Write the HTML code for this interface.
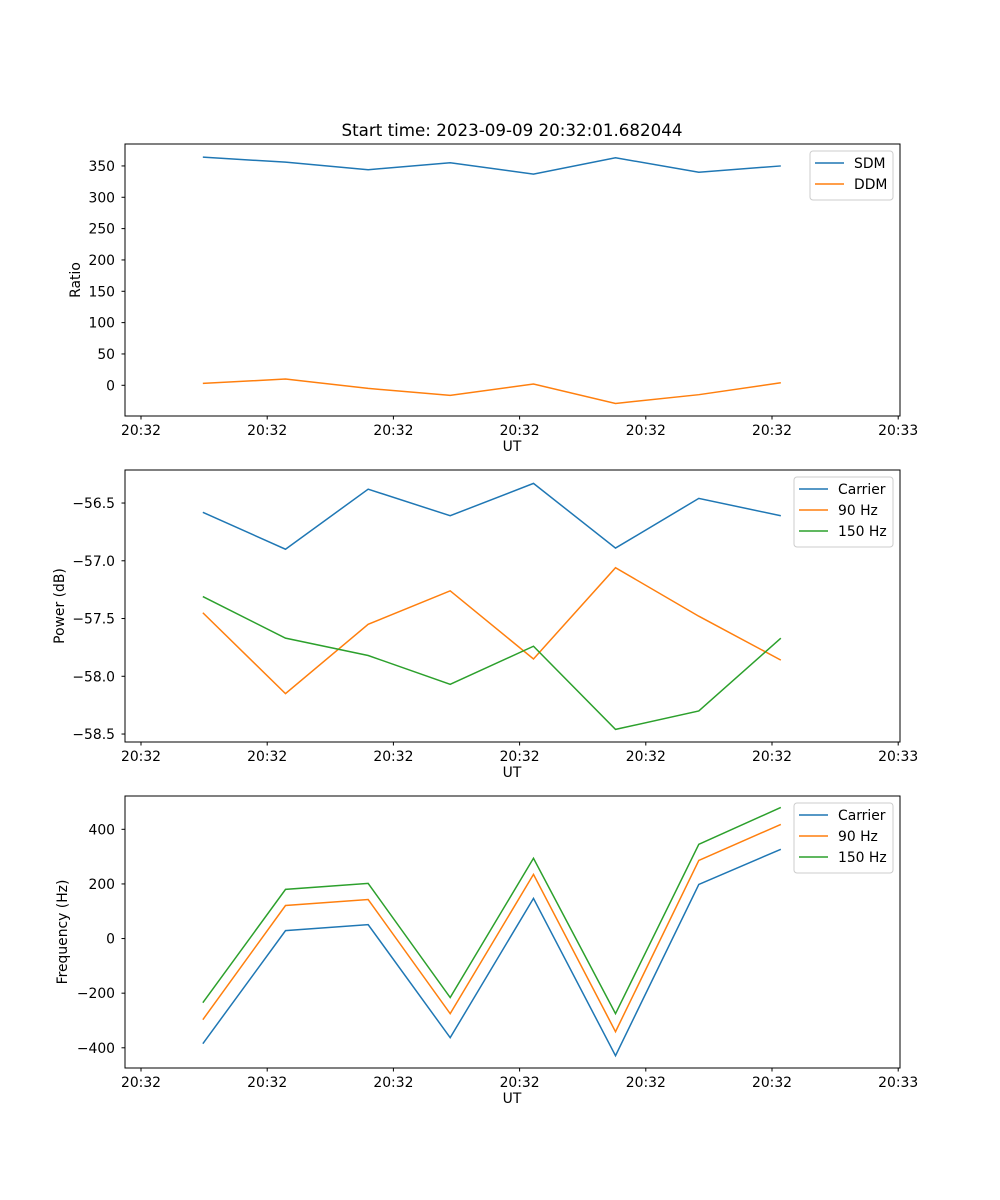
<!DOCTYPE html>
<html><head><meta charset="utf-8">
<style>
body{margin:0;background:#fff;}
svg{display:block;font-family:"DejaVu Sans","Liberation Sans",sans-serif;}
</style></head>
<body>
<svg id="fig" width="1000" height="1200" xmlns="http://www.w3.org/2000/svg">
<text x="512" y="136" font-size="16.7" text-anchor="middle">Start time: 2023-09-09 20:32:01.682044</text>
</svg>
<script>
const xTimes=[4.9,11.45,18.0,24.5,31.1,37.6,44.2,50.7];
const xTickVals=[0,10,20,30,40,50,60];
const xTickLabels=["20:32","20:32","20:32","20:32","20:32","20:32","20:33"];
const sdm=[364,356,344,355,337,363,340,350];
const ddm=[3,10,-5,-16,2,-29,-15,4];
const ratioTicks=[0,50,100,150,200,250,300,350];
const powCarrier=[-56.58,-56.9,-56.38,-56.61,-56.33,-56.89,-56.46,-56.61];
const pow90=[-57.45,-58.15,-57.55,-57.26,-57.85,-57.06,-57.48,-57.86];
const pow150=[-57.31,-57.67,-57.82,-58.07,-57.74,-58.46,-58.3,-57.67];
const powTicks=[-58.5,-58.0,-57.5,-57.0,-56.5];
const powTickLabels=["\u221258.5","\u221258.0","\u221257.5","\u221257.0","\u221256.5"];
const freqCarrier=[-385,29,51,-363,147,-429,198,327];
const freq90=[-297,121,143,-275,235,-341,286,418];
const freq150=[-235,180,202,-216,294,-275,345,480];
const freqTicks=[-400,-200,0,200,400];
const freqTickLabels=["\u2212400","\u2212200","0","200","400"];

const NS="http://www.w3.org/2000/svg";
const fig=document.getElementById('fig');
function mk(tag,attrs,parent){const e=document.createElementNS(NS,tag);for(const k in attrs)e.setAttribute(k,attrs[k]);(parent||fig).appendChild(e);return e;}
const L=125,R=900,FS=13.9;
const xScale=t=>141+t*12.62;
const C=['#1f77b4','#ff7f0e','#2ca02c'];

function panel(name,top,bot,ymin,ymax,yt,ytl,ylabel,series,names,legW){
  const g=mk('g',{});
  
  
  const ys=v=>bot-(v-ymin)/(ymax-ymin)*(bot-top);
  series.forEach((s,i)=>{
    const p=mk('polyline',{points:s.map((v,j)=>xScale(xTimes[j])+','+ys(v)).join(' '),fill:'none',stroke:C[i],'stroke-width':1.5},g);
    
    
  });
  mk('rect',{x:L,y:top,width:R-L,height:bot-top,fill:'none',stroke:'#000','stroke-width':1},g);
  xTickVals.forEach((t,i)=>{const x=xScale(t);mk('line',{x1:x,x2:x,y1:bot,y2:bot+3.5,stroke:'#000'},g);
    const tx=mk('text',{x:x,y:bot+19,'font-size':FS,'text-anchor':'middle'},g);tx.textContent=xTickLabels[i];
    });
  yt.forEach((v,i)=>{const y=ys(v);mk('line',{x1:L-3.5,x2:L,y1:y,y2:y,stroke:'#000'},g);
    const tx=mk('text',{x:L-10,y:y+5,'font-size':FS,'text-anchor':'end'},g);tx.textContent=ytl[i];
    });
  const xl=mk('text',{x:512,y:bot+35,'font-size':FS,'text-anchor':'middle'},g);xl.textContent='UT';
  
  const yx=ylabel.x, ym=(top+bot)/2;
  const yl=mk('text',{x:yx,y:ym,'font-size':FS,'text-anchor':'middle',transform:`rotate(-90 ${yx} ${ym})`},g);yl.textContent=ylabel.t;
  
  const lg=mk('g',{},g);
  
  const lx=R-7-legW, ly=top+7, lh=7+names.length*21;
  mk('rect',{x:lx,y:ly,width:legW,height:lh,rx:3,fill:'#fff','fill-opacity':0.8,stroke:'#ccc'},lg);
  names.forEach((n,i)=>{const y=ly+12+i*21;
    mk('line',{x1:lx+5,x2:lx+34,y1:y,y2:y,stroke:C[i],'stroke-width':1.5},lg);
    const t=mk('text',{x:lx+44,y:y+5,'font-size':FS},lg);t.textContent=n;
    });
}
panel('ratio-panel',144,416,-49,385,ratioTicks,ratioTicks.map(String),{x:80,t:'Ratio'},[sdm,ddm],['SDM','DDM'],83);
panel('power-panel',470,742,-58.569,-56.214,powTicks,powTickLabels,{x:64,t:'Power (dB)'},[powCarrier,pow90,pow150],['Carrier','90 Hz','150 Hz'],99);
panel('frequency-panel',796,1068,-474,522,freqTicks,freqTickLabels,{x:67,t:'Frequency (Hz)'},[freqCarrier,freq90,freq150],['Carrier','90 Hz','150 Hz'],99);
</script>
</body></html>
